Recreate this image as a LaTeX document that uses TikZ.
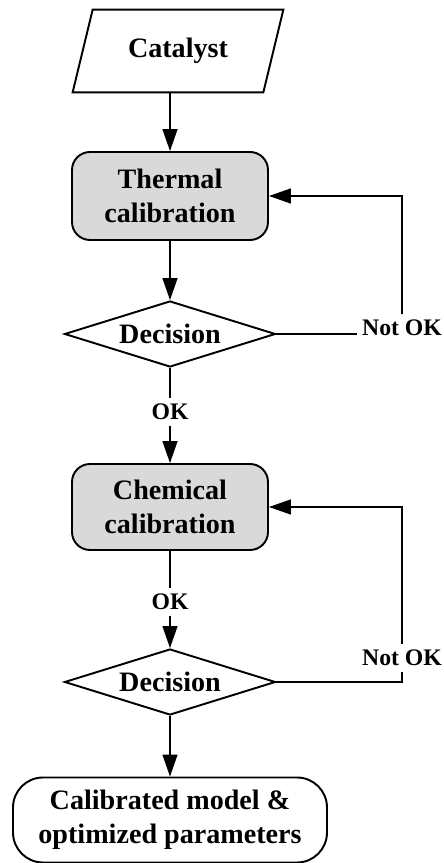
\documentclass[tikz,border=0pt]{standalone}
\usepackage{fontspec}
\setmainfont{Liberation Serif}
\usepackage{tikz}
\usetikzlibrary{shapes.geometric, arrows.meta}

\begin{document}
\begin{tikzpicture}[
	font=\bfseries\fontsize{16}{19.5}\selectfont,
	inbox/.style={minimum width=3.8cm, minimum height=1.64cm, inner sep=0pt},
	calbox/.style={draw, line width=1.1pt, fill=gray!30, rounded corners=0.36cm,
		minimum width=3.92cm, minimum height=1.76cm, align=center, inner sep=0pt},
	decbox/.style={draw, line width=1.1pt, diamond, aspect=3.2, inner sep=0pt,
		minimum width=4.22cm, minimum height=1.32cm},
	endbox/.style={draw, line width=1.1pt, rounded corners=0.6cm,
		minimum width=6.28cm, minimum height=1.7cm, align=center, inner sep=0pt},
	lbl/.style={font=\bfseries\fontsize{13.5}{16}\selectfont, inner sep=3pt},
	flow/.style={line width=0.8pt},
	flowarrow/.style={line width=0.8pt, -{Triangle[length=0.44cm, width=0.3cm]}}
	]
	\useasboundingbox (0,0) rectangle (8.86,17.26);

	%boxes
	\node[inbox] (cat) at (3.56,16.24) {Catalyst};
	\draw[line width=1.1pt] ([xshift=-0.2cm]cat.south west) -- ([xshift=-0.2cm]cat.south east)
		-- ([xshift=0.2cm]cat.north east) -- ([xshift=0.2cm]cat.north west) -- cycle;	%slanted input box
	\node[calbox] (therm) at (3.40,13.34) {Thermal\\calibration};
	\node[decbox] (dec1) at (3.40,10.58) {Decision};
	\node[calbox, minimum height=1.72cm] (chem) at (3.40,7.12) {Chemical\\calibration};
	\node[decbox] (dec2) at (3.40,3.62) {Decision};
	\node[endbox] (final) at (3.40,0.86) {Calibrated model \&\\optimized parameters};

	%labels
	\node[lbl] (okA) at (3.40,9.02) {OK};
	\node[lbl] (okB) at (3.40,5.22) {OK};
	\node[lbl] (nokA) at (8.04,10.70) {Not OK};
	\node[lbl] (nokB) at (8.04,4.10) {Not OK};

	%main flow
	\draw[flowarrow] (therm.north |- cat.south) -- (therm.north);
	\draw[flowarrow] (therm.south) -- (dec1.north);
	\draw[flow] (dec1.south) -- (okA.north);
	\draw[flowarrow] (okA.south) -- (chem.north);
	\draw[flow] (chem.south) -- (okB.north);
	\draw[flowarrow] (okB.south) -- (dec2.north);
	\draw[flowarrow] (dec2.south) -- (final.north);

	%loops back
	\draw[flow] (dec1.east) -- (dec1.east -| nokA.west);
	\draw[flowarrow] (nokA.north) |- (therm.east);
	\draw[flow] (nokB.south) |- (dec2.east);
	\draw[flowarrow] (nokB.north) |- (chem.east);
\end{tikzpicture}
\end{document}
